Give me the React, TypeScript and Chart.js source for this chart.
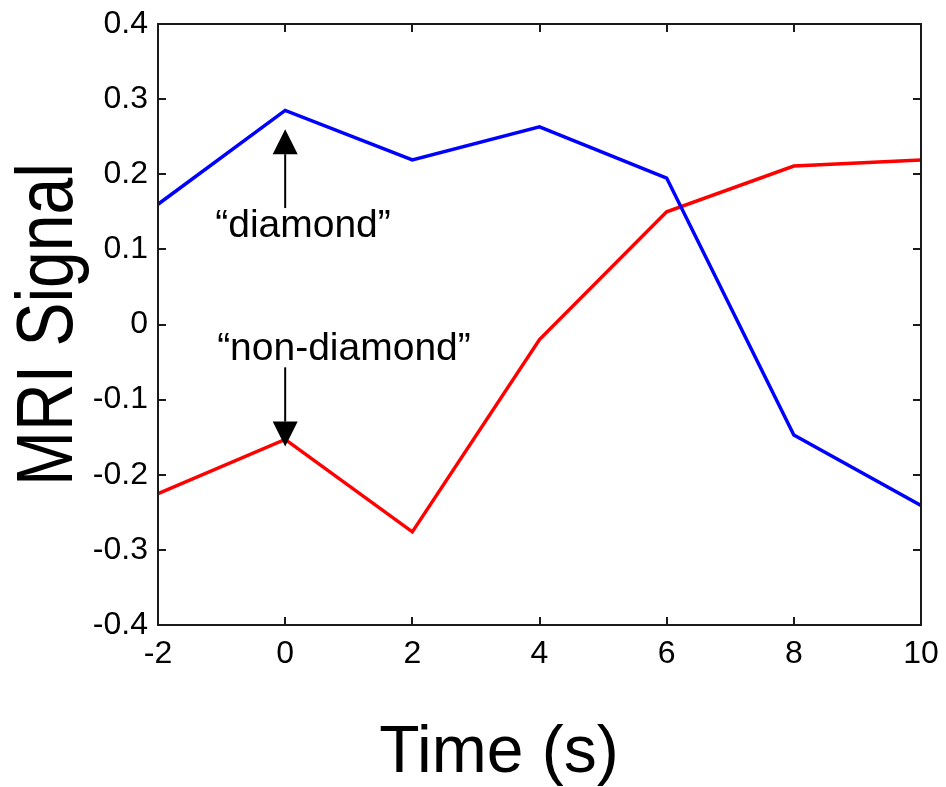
import React, { useEffect, useRef } from "react";
import { Chart, registerables } from "chart.js";

Chart.register(...registerables);

const timePoints = [-2, 0, 2, 4, 6, 8, 10];
const diamondSignal = [0.16, 0.285, 0.219, 0.263, 0.195, -0.147, -0.241];
const nonDiamondSignal = [-0.225, -0.153, -0.276, -0.02, 0.15, 0.211, 0.219];
const xTickValues = [-2, 0, 2, 4, 6, 8, 10];
const yTickValues = [-0.4, -0.3, -0.2, -0.1, 0, 0.1, 0.2, 0.3, 0.4];
const yTickLabels = ["-0.4", "-0.3", "-0.2", "-0.1", "0", "0.1", "0.2", "0.3", "0.4"];
const xTitle = "Time (s)";
const yTitle = "MRI Signal";
// annotations: label, text start x, text baseline y, arrow x, arrow tail y, arrow tip y
const annotationLabels = ["\u201Cdiamond\u201D", "\u201Cnon-diamond\u201D"];
const annotationTextX = [-1.1, -1.07];
const annotationTextY = [0.117, -0.047];
const annotationArrowX = [0, 0];
const annotationTailY = [0.155, -0.057];
const annotationTipY = [0.26, -0.1625];

const FONT = "'Liberation Sans', Arial, Helvetica, sans-serif";

const decorPlugin = {
  id: "decor",
  afterDatasetsDraw(chart: any) {
    const { ctx, chartArea, scales } = chart;
    const xs = scales.x;
    const ys = scales.y;
    const { left, right, top, bottom } = chartArea;
    ctx.save();
    ctx.strokeStyle = "#1a1a1a";
    ctx.lineWidth = 2;
    ctx.strokeRect(left, top, right - left, bottom - top);
    const tl = 8;
    ctx.beginPath();
    xTickValues.forEach((v) => {
      const px = Math.round(xs.getPixelForValue(v));
      ctx.moveTo(px, bottom);
      ctx.lineTo(px, bottom - tl);
      ctx.moveTo(px, top);
      ctx.lineTo(px, top + tl);
    });
    yTickValues.forEach((v) => {
      const py = Math.round(ys.getPixelForValue(v));
      ctx.moveTo(left, py);
      ctx.lineTo(left + tl, py);
      ctx.moveTo(right, py);
      ctx.lineTo(right - tl, py);
    });
    ctx.stroke();

    ctx.fillStyle = "#000";
    ctx.strokeStyle = "#000";
    ctx.lineWidth = 2;
    annotationLabels.forEach((label, i) => {
      const ax = xs.getPixelForValue(annotationArrowX[i]);
      const tailY = ys.getPixelForValue(annotationTailY[i]);
      const tipY = ys.getPixelForValue(annotationTipY[i]);
      const dir = tipY < tailY ? -1 : 1;
      const headLen = 25;
      const headHalf = 12.5;
      const baseY = tipY - dir * headLen;
      ctx.beginPath();
      ctx.moveTo(ax, tailY);
      ctx.lineTo(ax, baseY);
      ctx.stroke();
      ctx.beginPath();
      ctx.moveTo(ax, tipY);
      ctx.lineTo(ax - headHalf, baseY);
      ctx.lineTo(ax + headHalf, baseY);
      ctx.closePath();
      ctx.fill();
      ctx.font = `39px ${FONT}`;
      ctx.textAlign = "left";
      ctx.textBaseline = "alphabetic";
      ctx.fillText(label, xs.getPixelForValue(annotationTextX[i]), ys.getPixelForValue(annotationTextY[i]));
    });

    ctx.font = `66px ${FONT}`;
    ctx.textAlign = "center";
    ctx.textBaseline = "alphabetic";
    ctx.fillText(xTitle, 499, 772);
    ctx.save();
    ctx.translate(72, (top + bottom) / 2);
    ctx.rotate(-Math.PI / 2);
    ctx.scale(1, 1.2);
    ctx.fillText(yTitle, 0, 0);
    ctx.restore();
    ctx.restore();
  },
};

export default function App() {
  const canvasRef = useRef<HTMLCanvasElement | null>(null);

  useEffect(() => {
    if (!canvasRef.current) return;
    const chart = new Chart(canvasRef.current, {
      type: "line",
      data: {
        datasets: [
          {
            label: "diamond",
            data: timePoints.map((t, i) => ({ x: t, y: diamondSignal[i] })),
            borderColor: "#0000ff",
            borderWidth: 3.5,
            pointRadius: 0,
            tension: 0,
            fill: false,
          },
          {
            label: "non-diamond",
            data: timePoints.map((t, i) => ({ x: t, y: nonDiamondSignal[i] })),
            borderColor: "#ff0000",
            borderWidth: 3.5,
            pointRadius: 0,
            tension: 0,
            fill: false,
          },
        ],
      },
      options: {
        animation: false,
        responsive: true,
        maintainAspectRatio: false,
        layout: { padding: { left: 0, top: 24, right: 25, bottom: 0 } },
        plugins: {
          legend: { display: false },
          tooltip: { enabled: false },
        },
        scales: {
          x: {
            type: "linear",
            min: -2,
            max: 10,
            afterBuildTicks: (scale: any) => {
              scale.ticks = xTickValues.map((v) => ({ value: v }));
            },
            afterFit: (scale: any) => {
              scale.height = 162;
              scale.paddingLeft = 0;
              scale.paddingRight = 0;
              scale.paddingTop = 0;
              scale.paddingBottom = 0;
            },
            grid: { display: false, drawTicks: false },
            border: { display: false },
            ticks: {
              color: "#000",
              padding: 10,
              maxRotation: 0,
              autoSkip: false,
              font: { family: FONT, size: 32 },
              callback: (v: any) => String(v),
            },
          },
          y: {
            type: "linear",
            min: -0.4,
            max: 0.4,
            afterBuildTicks: (scale: any) => {
              scale.ticks = yTickValues.map((v) => ({ value: v }));
            },
            afterFit: (scale: any) => {
              scale.width = 158;
              scale.paddingLeft = 0;
              scale.paddingRight = 0;
              scale.paddingTop = 0;
              scale.paddingBottom = 0;
            },
            grid: { display: false, drawTicks: false },
            border: { display: false },
            ticks: {
              color: "#000",
              padding: 10,
              autoSkip: false,
              font: { family: FONT, size: 32 },
              callback: (v: any) => {
                const idx = yTickValues.findIndex((t) => Math.abs(t - v) < 1e-9);
                return idx >= 0 ? yTickLabels[idx] : "";
              },
            },
          },
        },
      },
      plugins: [decorPlugin],
    });
    return () => chart.destroy();
  }, []);

  return (
    <div style={{ position: "fixed", left: 0, top: 0, width: 946, height: 787, background: "#fff" }}>
      <canvas ref={canvasRef} />
    </div>
  );
}
